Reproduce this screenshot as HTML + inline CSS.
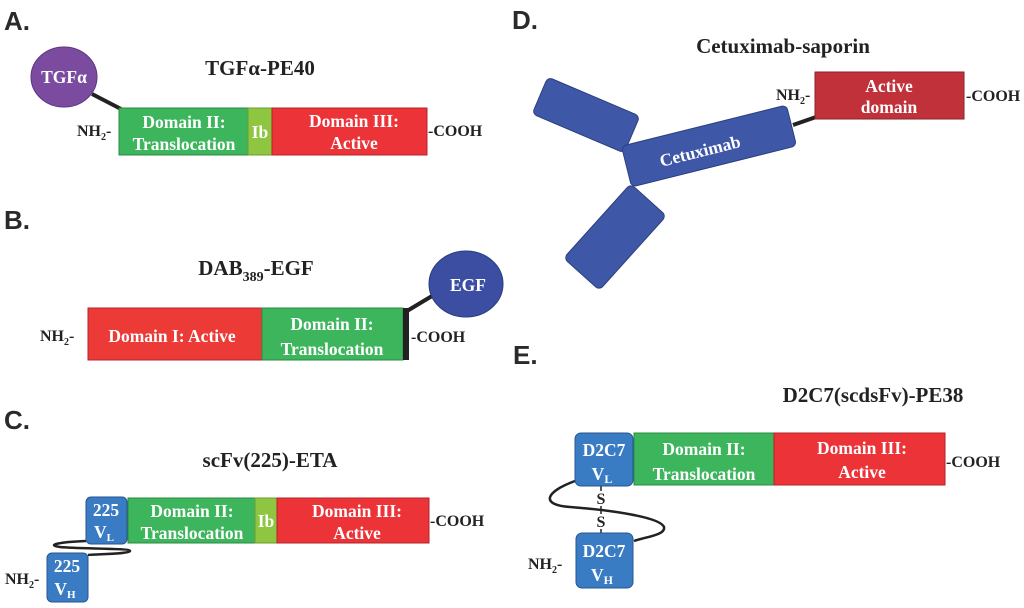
<!DOCTYPE html>
<html><head><meta charset="utf-8"><style>
html,body{margin:0;padding:0;background:#fff}
svg{display:block}
.lab{font-family:"Liberation Sans",sans-serif;font-weight:bold;font-size:26px;fill:#2a2a2a}
.ttl{font-family:"Liberation Serif",serif;font-weight:bold;font-size:21px;fill:#222}
.w{font-family:"Liberation Serif",serif;font-weight:bold;font-size:17.5px;fill:#fff;text-anchor:middle}
.k{font-family:"Liberation Serif",serif;font-weight:bold;font-size:16px;fill:#222}
</style></head><body>
<svg width="1024" height="608" viewBox="0 0 1024 608" xmlns="http://www.w3.org/2000/svg">
<!-- A -->
<text class="lab" x="4" y="30">A.</text>
<text class="ttl" x="260" y="75" text-anchor="middle">TGFα-PE40</text>
<line x1="92" y1="94" x2="121" y2="109" stroke="#222" stroke-width="4"/>
<ellipse cx="64" cy="77" rx="33" ry="30" fill="#7b4ba0" stroke="#5e3580"/>
<text class="w" x="64" y="83" font-size="17">TGFα</text>
<rect x="119" y="108" width="129" height="47" fill="#3db55c" stroke="#2a8a42"/>
<rect x="248" y="108" width="24" height="47" fill="#8ec641" stroke="#6a9e2e"/>
<rect x="272" y="108" width="155" height="47" fill="#ec3338" stroke="#b42328"/>
<text class="w" x="184" y="128">Domain II:</text>
<text class="w" x="184" y="150">Translocation</text>
<text class="w" x="260" y="138">Ib</text>
<text class="w" x="354" y="127">Domain III:</text>
<text class="w" x="354" y="149">Active</text>
<text class="k" x="77" y="136">NH<tspan font-size="10" dy="4">2</tspan><tspan dy="-4">-</tspan></text>
<text class="k" x="428" y="136">-COOH</text>
<!-- B -->
<text class="lab" x="4" y="229">B.</text>
<text class="ttl" x="256" y="275" text-anchor="middle">DAB<tspan font-size="14" dy="6">389</tspan><tspan dy="-6">-EGF</tspan></text>
<line x1="407" y1="311" x2="432" y2="296" stroke="#222" stroke-width="4"/>
<ellipse cx="466" cy="284" rx="37" ry="33" fill="#3b4ea2" stroke="#2a3a80"/>
<text class="w" x="468" y="291" font-size="20">EGF</text>
<rect x="88" y="308" width="174" height="52" fill="#ec3a37" stroke="#b42328"/>
<rect x="262" y="308" width="141" height="52" fill="#3db55c" stroke="#2a8a42"/>
<rect x="403" y="308" width="6" height="52" fill="#222"/>
<text class="w" x="172" y="342" font-size="19">Domain I: Active</text>
<text class="w" x="332" y="330" font-size="19">Domain II:</text>
<text class="w" x="332" y="355" font-size="19">Translocation</text>
<text class="k" x="40" y="341" font-size="17">NH<tspan font-size="10" dy="4">2</tspan><tspan dy="-4">-</tspan></text>
<text class="k" x="411" y="342" font-size="17">-COOH</text>
<!-- C -->
<text class="lab" x="4" y="429">C.</text>
<text class="ttl" x="270" y="467" text-anchor="middle">scFv(225)-ETA</text>
<path d="M86 541 C60 542,45 545,60 547 C80 549,130 548,130 551 C128 554,100 554,88 555" fill="none" stroke="#222" stroke-width="2.5"/>
<rect x="86" y="497" width="41" height="47" rx="5" fill="#3a7cc4" stroke="#25568f"/>
<text class="w" x="106" y="516" font-size="16">225</text>
<text class="w" x="104" y="538" font-size="17">V<tspan font-size="11" dy="3">L</tspan></text>
<rect x="47" y="553" width="41" height="49" rx="5" fill="#3a7cc4" stroke="#25568f"/>
<text class="w" x="67" y="572" font-size="16">225</text>
<text class="w" x="65" y="595" font-size="17">V<tspan font-size="11" dy="3">H</tspan></text>
<rect x="128" y="498" width="127" height="45" fill="#3db55c" stroke="#2a8a42"/>
<rect x="255" y="498" width="22" height="45" fill="#8ec641" stroke="#6a9e2e"/>
<rect x="277" y="498" width="152" height="45" fill="#ec3338" stroke="#b42328"/>
<text class="w" x="192" y="517">Domain II:</text>
<text class="w" x="192" y="539">Translocation</text>
<text class="w" x="266" y="527">Ib</text>
<text class="w" x="357" y="517">Domain III:</text>
<text class="w" x="357" y="539">Active</text>
<text class="k" x="430" y="526">-COOH</text>
<text class="k" x="5" y="584">NH<tspan font-size="10" dy="4">2</tspan><tspan dy="-4">-</tspan></text>
<!-- D -->
<text class="lab" x="512" y="29">D.</text>
<text class="ttl" x="783" y="53" text-anchor="middle">Cetuximab-saporin</text>
<line x1="793" y1="125" x2="816" y2="117" stroke="#222" stroke-width="4"/>
<g fill="#3f57a7" stroke="#2c3f80" stroke-width="1">
<rect x="-50" y="-20" width="100" height="40" rx="5" transform="translate(586,115) rotate(23)"/>
<rect x="-24" y="-50" width="48" height="100" rx="5" transform="translate(615,237) rotate(42)"/>
<rect x="-85" y="-21" width="170" height="42" rx="5" transform="translate(709,146) rotate(-14)"/>
</g>
<text class="w" x="0" y="6" font-size="19" transform="translate(700,151) rotate(-14)">Cetuximab</text>
<rect x="815" y="72" width="149" height="47" fill="#c0313a" stroke="#8a2228"/>
<text class="w" x="889" y="92" font-size="17">Active</text>
<text class="w" x="889" y="113" font-size="17">domain</text>
<text class="k" x="776" y="100">NH<tspan font-size="10" dy="4">2</tspan><tspan dy="-4">-</tspan></text>
<text class="k" x="966" y="101">-COOH</text>
<!-- E -->
<text class="lab" x="513" y="364">E.</text>
<text class="ttl" x="873" y="402" text-anchor="middle">D2C7(scdsFv)-PE38</text>
<path d="M575 481 C545 492,540 505,570 507 C610 510,660 517,664 527 C666 535,645 537,634 541" fill="none" stroke="#222" stroke-width="2.5"/>
<line x1="601" y1="486" x2="601" y2="534" stroke="#222" stroke-width="1.5"/>
<rect x="594" y="491" width="14" height="15" fill="#fff"/>
<rect x="594" y="514" width="14" height="15" fill="#fff"/>
<text class="k" x="601" y="504" text-anchor="middle" font-weight="normal">S</text>
<text class="k" x="601" y="527" text-anchor="middle" font-weight="normal">S</text>
<rect x="575" y="433" width="58" height="53" rx="6" fill="#3a7cc4" stroke="#25568f"/>
<text class="w" x="604" y="456" font-size="19">D2C7</text>
<text class="w" x="602" y="480" font-size="19">V<tspan font-size="12" dy="3">L</tspan></text>
<rect x="576" y="533" width="57" height="55" rx="6" fill="#3a7cc4" stroke="#25568f"/>
<text class="w" x="604" y="557" font-size="19">D2C7</text>
<text class="w" x="602" y="581" font-size="19">V<tspan font-size="12" dy="3">H</tspan></text>
<rect x="634" y="433" width="140" height="52" fill="#3db55c" stroke="#2a8a42"/>
<rect x="774" y="433" width="171" height="52" fill="#ec3338" stroke="#b42328"/>
<text class="w" x="704" y="455" font-size="19">Domain II:</text>
<text class="w" x="704" y="480" font-size="19">Translocation</text>
<text class="w" x="862" y="454" font-size="19">Domain III:</text>
<text class="w" x="862" y="478" font-size="19">Active</text>
<text class="k" x="946" y="467" font-size="17">-COOH</text>
<text class="k" x="528" y="569" font-size="17">NH<tspan font-size="10" dy="4">2</tspan><tspan dy="-4">-</tspan></text>
</svg>
</body></html>
